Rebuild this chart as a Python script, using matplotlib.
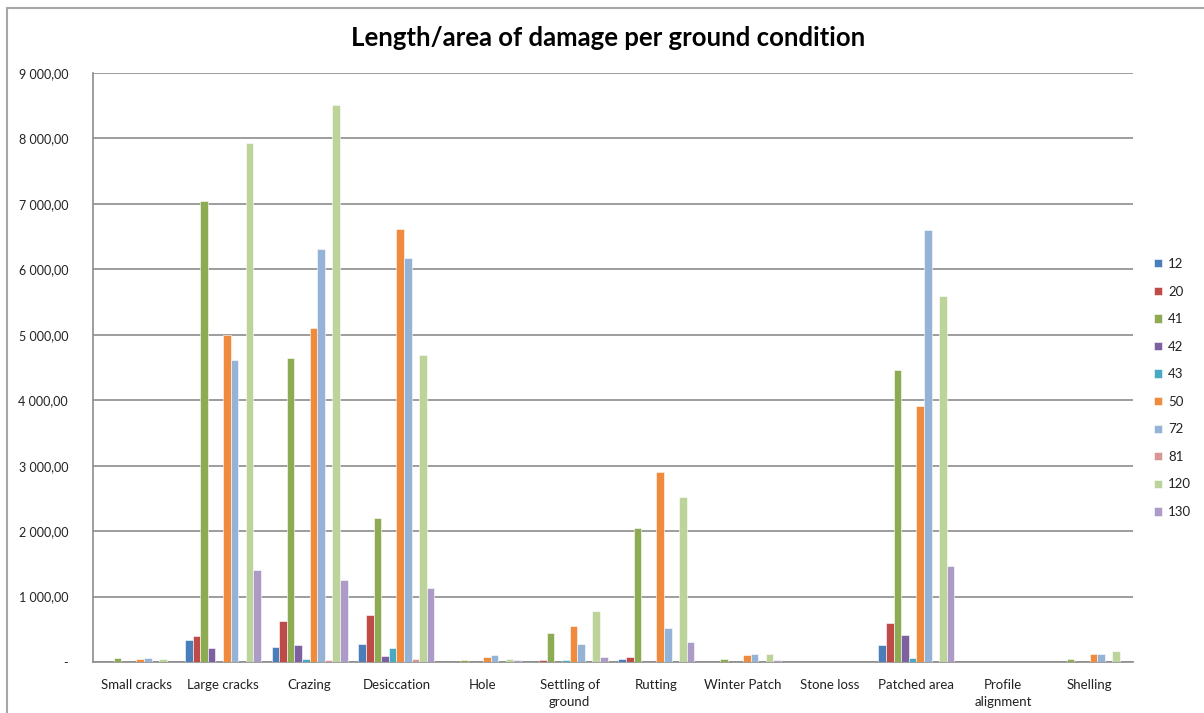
import matplotlib
matplotlib.use("Agg")
import matplotlib.pyplot as plt
import numpy as np
from matplotlib.ticker import FuncFormatter, MultipleLocator
from matplotlib.patches import Rectangle

plt.rcParams['font.family'] = ['Lato', 'DejaVu Sans']

categories = ["Small cracks", "Large cracks", "Crazing", "Desiccation", "Hole",
              "Settling of\nground", "Rutting", "Winter Patch", "Stone loss",
              "Patched area", "Profile\nalignment", "Shelling"]

series_names = ["12", "20", "41", "42", "43", "50", "72", "81", "120", "130"]

s12 = [0, 338, 231, 277, 0, 0, 46, 0, 0, 255, 0, 0]
s20 = [0, 400, 631, 718, 0, 25, 71, 0, 0, 591, 0, 0]
s41 = [67, 7050, 4645, 2200, 25, 438, 2055, 46, 0, 4462, 0, 46]
s42 = [0, 210, 256, 90, 0, 0, 0, 0, 0, 418, 0, 0]
s43 = [0, 0, 46, 214, 0, 25, 0, 0, 0, 66, 0, 0]
s50 = [46, 5000, 5104, 6617, 71, 545, 2903, 102, 0, 3912, 0, 127]
s72 = [67, 4615, 6311, 6174, 107, 270, 525, 127, 0, 6601, 0, 127]
s81 = [0, 0, 30, 46, 0, 0, 0, 0, 0, 0, 0, 0]
s120 = [46, 7931, 8512, 4691, 46, 774, 2521, 127, 0, 5593, 0, 168]
s130 = [0, 1401, 1248, 1126, 25, 71, 300, 31, 0, 1467, 0, 0]

all_series = [s12, s20, s41, s42, s43, s50, s72, s81, s120, s130]
colors = ["#4A7EBB", "#BE4B48", "#8CAB52", "#7D60A0", "#46AAC5",
          "#F08A3C", "#94B3D6", "#DA9694", "#BCD39A", "#AB9BC6"]

fig = plt.figure(figsize=(12.04, 7.13), dpi=100)
ax = fig.add_axes([93/1204, 51/713, 1040/1204, 589/713])

n = len(all_series)
group_w = 0.877
bw = group_w / n
x = np.arange(len(categories))
for i, (vals, name, c) in enumerate(zip(all_series, series_names, colors)):
    v = np.array(vals, dtype=float)
    v[v == 0] = np.nan  # zero values: no visible bar
    ax.bar(x - group_w/2 + (i + 0.5) * bw, v, width=bw, color=c,
           edgecolor="white", linewidth=0.4, label=name, zorder=3)

ax.set_xlim(-0.5, len(categories) - 0.5)
ax.set_ylim(0, 9000)
ax.yaxis.set_major_locator(MultipleLocator(1000))

def yfmt(v, pos):
    if abs(v) < 1e-9:
        return "-"
    s = f"{v:,.2f}"
    return s.replace(",", " ").replace(".", ",")
ax.yaxis.set_major_formatter(FuncFormatter(yfmt))

ax.grid(axis="y", color="#8C8C8C", linewidth=1.2, zorder=0)
ax.set_axisbelow(True)
for sp in ["top", "right"]:
    ax.spines[sp].set_visible(False)
for sp in ["left", "bottom"]:
    ax.spines[sp].set_color("#8C8C8C")
    ax.spines[sp].set_linewidth(1.2)

ax.set_xticks(x)
ax.set_xticklabels(categories, fontsize=9.5, color="#222222", linespacing=1.5)
ax.tick_params(axis="x", length=0, pad=12)
ax.tick_params(axis="y", length=0, pad=18, labelsize=9, labelcolor="#222222")
for lbl in ax.get_xticklabels():
    lbl.set_verticalalignment("top")

fig.text(608/1204, 1 - 38/713, "Length/area of damage per ground condition",
         ha="center", va="center", fontsize=18.5, fontweight="bold", color="#000000")

leg = ax.legend(loc="center left", bbox_to_anchor=(1147/1204, 1 - 388/713),
                bbox_transform=fig.transFigure, frameon=False, fontsize=9.5,
                handlelength=0.6, handleheight=0.6, handletextpad=0.5,
                labelspacing=1.18, borderpad=0)
for t in leg.get_texts():
    t.set_color("#222222")

fig.patches.append(Rectangle((7/1204, -0.05), 1.1, 1 - 8/713 + 0.05,
                             transform=fig.transFigure, fill=False,
                             edgecolor="#A6A6A6", linewidth=1.5))

fig.savefig("out.png", dpi=100)
